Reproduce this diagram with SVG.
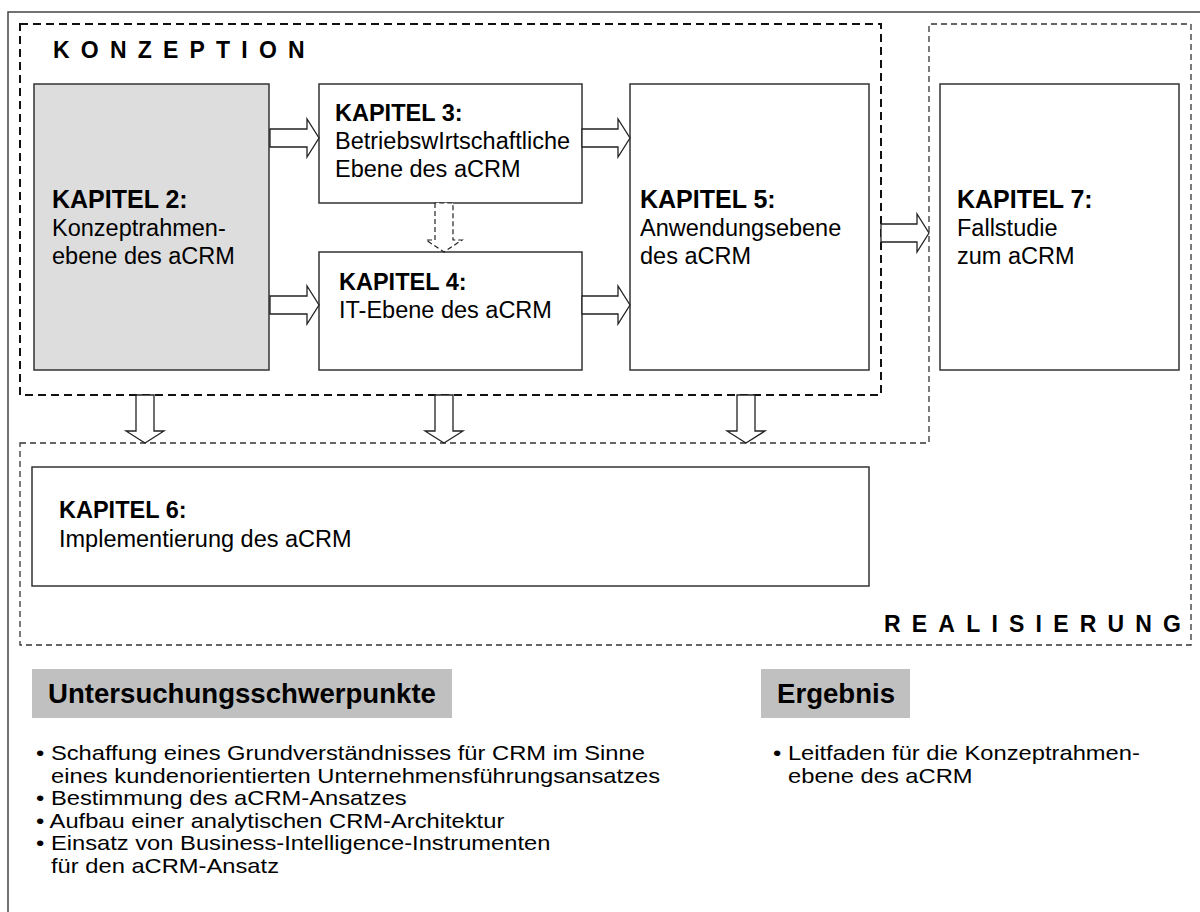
<svg xmlns="http://www.w3.org/2000/svg" width="1200" height="912" viewBox="0 0 1200 912">
  <defs>
    <style>
      text { font-family: "Liberation Sans", Arial, sans-serif; fill: #000; }
      .hd { font-weight: bold; font-size: 25px; }
      .hs { font-weight: bold; font-size: 23.5px; }
      .bd { font-size: 23.5px; }
      .zone { font-weight: bold; font-size: 23px; letter-spacing: 11.2px; }
      .cap { font-weight: bold; font-size: 27.6px; }
      .li { font-size: 21px; }
      .box { fill: #fff; stroke: #333; stroke-width: 1.5; }
      .box.grey { fill: #dddddd; }
      .tag { fill: #c0c0c0; stroke: none; }
      .arrow { fill: #fff; stroke: #222; stroke-width: 1.3; stroke-linejoin: miter; }
      .arrow.dashed { stroke-dasharray: 5 3; stroke-width: 1.2; }
      .zone-k { fill: none; stroke: #111; stroke-width: 2; stroke-dasharray: 8 5; }
      .zone-r { fill: none; stroke: #333; stroke-width: 1.3; stroke-dasharray: 6 4; }
    </style>
  </defs>

  <rect x="0" y="0" width="1200" height="912" fill="#fff"/>
  <!-- outer frame -->
  <rect x="8" y="12" width="1200" height="920" fill="none" stroke="#444" stroke-width="1.5"/>

  <!-- phase areas -->
  <g id="zone-konzeption">
    <rect class="zone-k" x="20" y="24" width="861" height="371"/>
    <text class="zone" x="53" y="58">KONZEPTION</text>
  </g>
  <g id="zone-realisierung">
    <path class="zone-r" d="M20,443 H929 V24 H1191 V645 H20 Z"/>
    <text class="zone" x="884" y="632">REALISIERUNG</text>
  </g>

  <!-- chapters -->
  <g id="kapitel2">
    <rect class="box grey" x="34" y="84" width="235" height="286"/>
    <text class="hd" x="52" y="208">KAPITEL 2:</text>
    <text class="bd" x="52" y="236">Konzeptrahmen-</text>
    <text class="bd" x="52" y="264">ebene des aCRM</text>
  </g>
  <g id="kapitel3">
    <rect class="box" x="319" y="84" width="263" height="119"/>
    <text class="hs" x="335" y="121">KAPITEL 3:</text>
    <text class="bd" x="335" y="149">BetriebswIrtschaftliche</text>
    <text class="bd" x="335" y="177">Ebene des aCRM</text>
  </g>
  <g id="kapitel4">
    <rect class="box" x="319" y="252" width="263" height="118"/>
    <text class="hs" x="339" y="290">KAPITEL 4:</text>
    <text class="bd" x="339" y="318">IT-Ebene des aCRM</text>
  </g>
  <g id="kapitel5">
    <rect class="box" x="630" y="84" width="239" height="286"/>
    <text class="hd" x="640" y="208">KAPITEL 5:</text>
    <text class="bd" x="640" y="236">Anwendungsebene</text>
    <text class="bd" x="640" y="264">des aCRM</text>
  </g>
  <g id="kapitel7">
    <rect class="box" x="940" y="84" width="239" height="286"/>
    <text class="hd" x="957" y="208">KAPITEL 7:</text>
    <text class="bd" x="957" y="236">Fallstudie</text>
    <text class="bd" x="957" y="264">zum aCRM</text>
  </g>
  <g id="kapitel6">
    <rect class="box" x="32" y="467" width="837" height="119"/>
    <text class="hs" x="59" y="518">KAPITEL 6:</text>
    <text class="bd" x="59" y="547">Implementierung des aCRM</text>
  </g>

  <!-- block arrows -->
  <g id="connectors">
    <polygon class="arrow" points="270,129 307,129 307,119 319,138 307,157 307,147 270,147"/>
    <polygon class="arrow" points="270,296 307,296 307,286 319,305 307,324 307,314 270,314"/>
    <polygon class="arrow" points="582,129 618,129 618,119 630,138 618,157 618,147 582,147"/>
    <polygon class="arrow" points="582,296 618,296 618,286 630,305 618,324 618,314 582,314"/>
    <polygon class="arrow" points="881,224 917,224 917,214 929,233 917,252 917,242 881,242"/>
    <polygon class="arrow dashed" points="435,203 435,240 426,240 444,252 462,240 453,240 453,203"/>
    <polygon class="arrow" points="136,395 136,431 126,431 145,443 164,431 154,431 154,395"/>
    <polygon class="arrow" points="435,395 435,431 425,431 444,443 463,431 453,431 453,395"/>
    <polygon class="arrow" points="737,395 737,431 727,431 746,443 765,431 755,431 755,395"/>
  </g>

  <!-- focus topics (list text is set slightly wide) -->
  <g id="schwerpunkte">
    <rect class="tag" x="32" y="669" width="420" height="49"/>
    <text class="cap" x="48" y="703">Untersuchungsschwerpunkte</text>
    <text class="li" transform="translate(36 760) scale(1.13 1)">• Schaffung eines Grundverständnisses für CRM im Sinne</text>
    <text class="li" transform="translate(51 782.6) scale(1.13 1)">eines kundenorientierten Unternehmensführungsansatzes</text>
    <text class="li" transform="translate(36 805.2) scale(1.13 1)">• Bestimmung des aCRM-Ansatzes</text>
    <text class="li" transform="translate(36 827.8) scale(1.13 1)">• Aufbau einer analytischen CRM-Architektur</text>
    <text class="li" transform="translate(36 850.4) scale(1.13 1)">• Einsatz von Business-Intelligence-Instrumenten</text>
    <text class="li" transform="translate(51 873) scale(1.13 1)">für den aCRM-Ansatz</text>
  </g>

  <!-- result -->
  <g id="ergebnis">
    <rect class="tag" x="761" y="669" width="149" height="49"/>
    <text class="cap" x="777" y="703">Ergebnis</text>
    <text class="li" transform="translate(773 760) scale(1.13 1)">• Leitfaden für die Konzeptrahmen-</text>
    <text class="li" transform="translate(788 783) scale(1.13 1)">ebene des aCRM</text>
  </g>
</svg>
